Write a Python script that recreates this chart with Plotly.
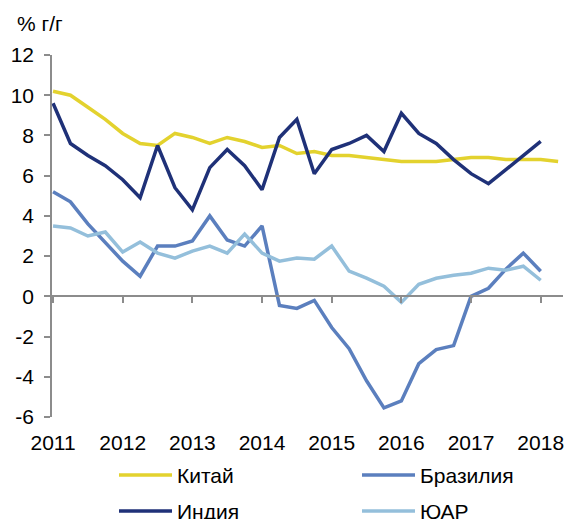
import plotly.graph_objects as go

# Quarterly data, 2011Q1 ..
years = [2011, 2012, 2013, 2014, 2015, 2016, 2017, 2018]
tick_labels = [str(y) for y in years]
y_ticks = [-6, -4, -2, 0, 2, 4, 6, 8, 10, 12]
y_tick_labels = ["-6", "-4", "-2", "0", "2", "4", "6", "8", "10", "12"]

china = [10.2, 10.0, 9.4, 8.8, 8.1, 7.6, 7.5, 8.1, 7.9, 7.6, 7.9, 7.7, 7.4, 7.5, 7.1,
         7.2, 7.0, 7.0, 6.9, 6.8, 6.7, 6.7, 6.7, 6.8, 6.9, 6.9, 6.8, 6.8, 6.8, 6.7]
india = [9.6, 7.6, 7.0, 6.5, 5.8, 4.9, 7.5, 5.4, 4.3, 6.4, 7.3, 6.5, 5.3, 7.9, 8.8,
         6.1, 7.3, 7.6, 8.0, 7.2, 9.1, 8.1, 7.6, 6.8, 6.1, 5.6, 6.3, 7.0, 7.7]
brazil = [5.2, 4.7, 3.6, 2.65, 1.75, 1.0, 2.5, 2.5, 2.75, 4.0, 2.8, 2.5, 3.5, -0.45, -0.6,
          -0.2, -1.55, -2.6, -4.2, -5.55, -5.2, -3.35, -2.65, -2.45, 0.0, 0.4, 1.35, 2.15, 1.25]
safrica = [3.5, 3.4, 3.0, 3.2, 2.2, 2.7, 2.15, 1.9, 2.25, 2.5, 2.15, 3.1, 2.15, 1.75, 1.9,
           1.85, 2.5, 1.25, 0.9, 0.5, -0.3, 0.6, 0.9, 1.05, 1.15, 1.4, 1.3, 1.5, 0.8]

def quarters(n):
    return [2011 + i / 4 for i in range(n)]

FONT = "Liberation Sans, Arial, sans-serif"
FS = 21
GRAY = "#8c8c8c"

fig = go.Figure()
fig.add_trace(go.Scatter(x=quarters(len(china)), y=china, name="Китай", mode="lines",
                         line=dict(color="#E3D22E", width=3.5), legend="legend"))
fig.add_trace(go.Scatter(x=quarters(len(brazil)), y=brazil, name="Бразилия", mode="lines",
                         line=dict(color="#5B7FBE", width=3.5), legend="legend2"))
fig.add_trace(go.Scatter(x=quarters(len(india)), y=india, name="Индия", mode="lines",
                         line=dict(color="#1F3178", width=3.5), legend="legend3"))
fig.add_trace(go.Scatter(x=quarters(len(safrica)), y=safrica, name="ЮАР", mode="lines",
                         line=dict(color="#94BFDB", width=3.5), legend="legend4"))
# invisible helper trace for the axis that sits on the zero line
fig.add_trace(go.Scatter(x=[years[0]], y=[0], xaxis="x2", mode="markers",
                         marker=dict(opacity=0), showlegend=False, hoverinfo="skip"))

xr = [2010.985, 2018.32]
W, H = 569, 519
ml, mr, mt, mb = 52, 6, 55, 102

def leg(xpx, ypx):
    return dict(orientation="h", xref="container", yref="container",
                x=xpx / W, y=1 - ypx / H, xanchor="left", yanchor="middle",
                font=dict(family=FONT, size=FS, color="#000"), itemwidth=53,
                bgcolor="rgba(0,0,0,0)", borderwidth=0)

fig.update_layout(
    width=W, height=H,
    margin=dict(l=ml, r=mr, t=mt, b=mb, autoexpand=False),
    paper_bgcolor="white", plot_bgcolor="white",
    font=dict(family=FONT, size=FS, color="#000"),
    xaxis=dict(range=xr, tickvals=years, ticktext=tick_labels, showgrid=False,
               zeroline=False, showline=False, ticks="", ticklabelstandoff=11,
               ticklabeloverflow="allow",
               tickfont=dict(family=FONT, size=FS, color="#000")),
    xaxis2=dict(range=xr, overlaying="x", anchor="free", position=6 / 18,
                side="bottom", tickvals=years, showticklabels=False,
                showgrid=False, zeroline=False, showline=True, linecolor=GRAY,
                linewidth=1.5, ticks="outside", ticklen=6, tickwidth=1.5,
                tickcolor=GRAY),
    yaxis=dict(range=[-6, 12], tickvals=y_ticks, ticktext=y_tick_labels,
               showgrid=False, zeroline=False,
               showline=True, linecolor=GRAY, linewidth=1.5, ticks="outside",
               ticklen=6, tickwidth=1.5, tickcolor=GRAY, ticklabelstandoff=6,
               tickfont=dict(family=FONT, size=FS, color="#000")),
    legend=leg(114, 475.3),
    legend2=leg(357, 475.3),
    legend3=leg(114, 511.3),
    legend4=leg(357, 511.3),
    annotations=[dict(text="% г/г", xref="paper", yref="paper",
                      x=(15 - ml) / (W - ml - mr), y=(417 - 23) / 362,
                      xanchor="left", yanchor="middle", showarrow=False,
                      font=dict(family=FONT, size=FS, color="#000"))],
    showlegend=True,
)

fig.write_html("out.html", config={"displayModeBar": False},
               post_script="document.body.style.margin='0';document.body.style.padding='0';")
